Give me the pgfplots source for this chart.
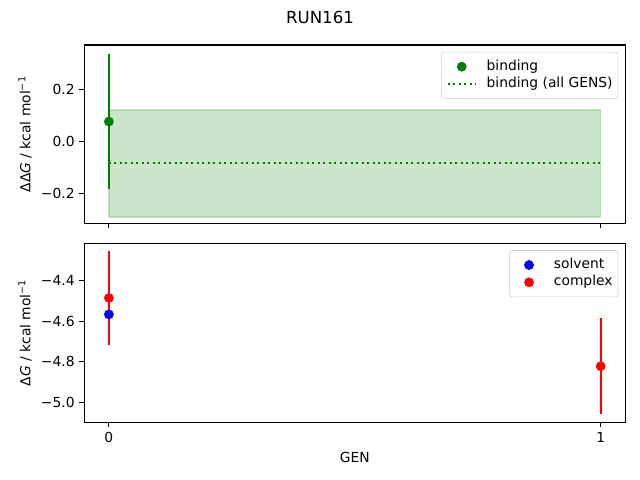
\documentclass[border=0pt]{standalone}
\usepackage{fontspec}
\setmainfont{DejaVu Sans}
\usepackage{pgfplots}
\pgfplotsset{compat=1.18}

\definecolor{mplgreen}{HTML}{008000}
\definecolor{mplblue}{HTML}{0000FF}
\definecolor{mplred}{HTML}{FF0000}

\pgfplotsset{
  mplpanel/.style={
    scale only axis, width=5.41in,
    xmin=-0.05, xmax=1.05,
    xtick={0,1},
    axis line style={line width=0.8pt},
    tick align=outside, tick pos=left,
    major tick length=3.5pt,
    every tick/.style={black, line width=0.8pt},
    tick label style={font=\fontsize{10}{12}\selectfont},
    label style={font=\fontsize{10}{12}\selectfont},
    ylabel style={at={(axis description cs:-0.1096,0.5)}, anchor=center, rotate=0},
    legend cell align=left,
    legend style={at={(1,1)}, anchor=north east, xshift=-5pt, yshift=-5pt,
      draw=black!20, rounded corners=2pt, fill=white,
      font=\fontsize{10}{12}\selectfont,
      inner xsep=4pt, inner ysep=5.5pt, row sep=2.5pt, column sep=0pt,
      nodes={inner sep=0pt, text height=7.5pt, text depth=2.5pt}},
  },
  dotlegend/.style={legend image code/.code={
    \path[draw=none, fill=none] (0pt,0pt) -- (28pt,0pt);
    \draw[##1, only marks, mark repeat=2, mark phase=2]
      plot coordinates {(0pt,0pt) (10pt,0pt) (20pt,0pt)};}},
  linelegend/.style={legend image code/.code={
    \path[draw=none, fill=none] (0pt,0pt) -- (28pt,0pt);
    \draw[##1] (0pt,0pt) -- (20pt,0pt);}},
}

\begin{document}
\begin{tikzpicture}
\path[use as bounding box] (0,0) rectangle (6.4in,4.8in);

\node[font=\fontsize{12}{14}\selectfont] at (3.2in,4.63in) {RUN161};

% top panel: binding free energy
\begin{axis}[mplpanel, name=top,
    at={(0.843in,4.35in)}, anchor=north west,
    height=1.783in,
    ymin=-0.316, ymax=0.372,
    ytick={-0.2,0,0.2},
    yticklabels={−0.2,0.0,0.2},
    xticklabels={},
    ylabel={ΔΔ\textit{G} / kcal mol\textsuperscript{−1}},
  ]
  % band for all GENS
  \addplot[forget plot, fill=mplgreen, fill opacity=0.2, draw=mplgreen,
           draw opacity=0.2, line width=1pt] coordinates {
    (0,-0.291) (1,-0.291) (1,0.121) (0,0.121) (0,-0.291)};
  \addplot[mplgreen, only marks, mark=*, mark size=3.3pt, dotlegend,
           error bars/.cd, y dir=both, y explicit, error mark=none,
           error bar style={line width=1.5pt, mplgreen}]
    coordinates {(0,0.0765) +- (0,0.2595)};
  \addlegendentry{binding}
  \addplot[mplgreen, line width=1.5pt, dash pattern=on 1.5pt off 2.475pt,
           linelegend] coordinates {(0,-0.085) (1,-0.085)};
  \addlegendentry{binding (all GENS)}
\end{axis}

% bottom panel: solvent and complex
\begin{axis}[mplpanel,
    at={(0.843in,2.367in)}, anchor=north west,
    height=1.79in,
    ymin=-5.099, ymax=-4.215,
    ytick={-5.0,-4.8,-4.6,-4.4},
    yticklabels={−5.0,−4.8,−4.6,−4.4},
    xticklabels={0,1},
    ylabel={Δ\textit{G} / kcal mol\textsuperscript{−1}},
    xlabel={GEN},
    xlabel style={at={(axis description cs:0.5,-0.194)}, anchor=center},
  ]
  \addplot[mplblue, only marks, mark=*, mark size=3.3pt, dotlegend]
    coordinates {(0,-4.566)};
  \addlegendentry{solvent}
  \addplot[mplred, only marks, mark=*, mark size=3.3pt, dotlegend,
           error bars/.cd, y dir=both, y explicit, error mark=none,
           error bar style={line width=1.5pt, mplred}]
    coordinates {(0,-4.485) +- (0,0.231) (1,-4.822) +- (0,0.237)};
  \addlegendentry{complex}
\end{axis}
\end{tikzpicture}
\end{document}
